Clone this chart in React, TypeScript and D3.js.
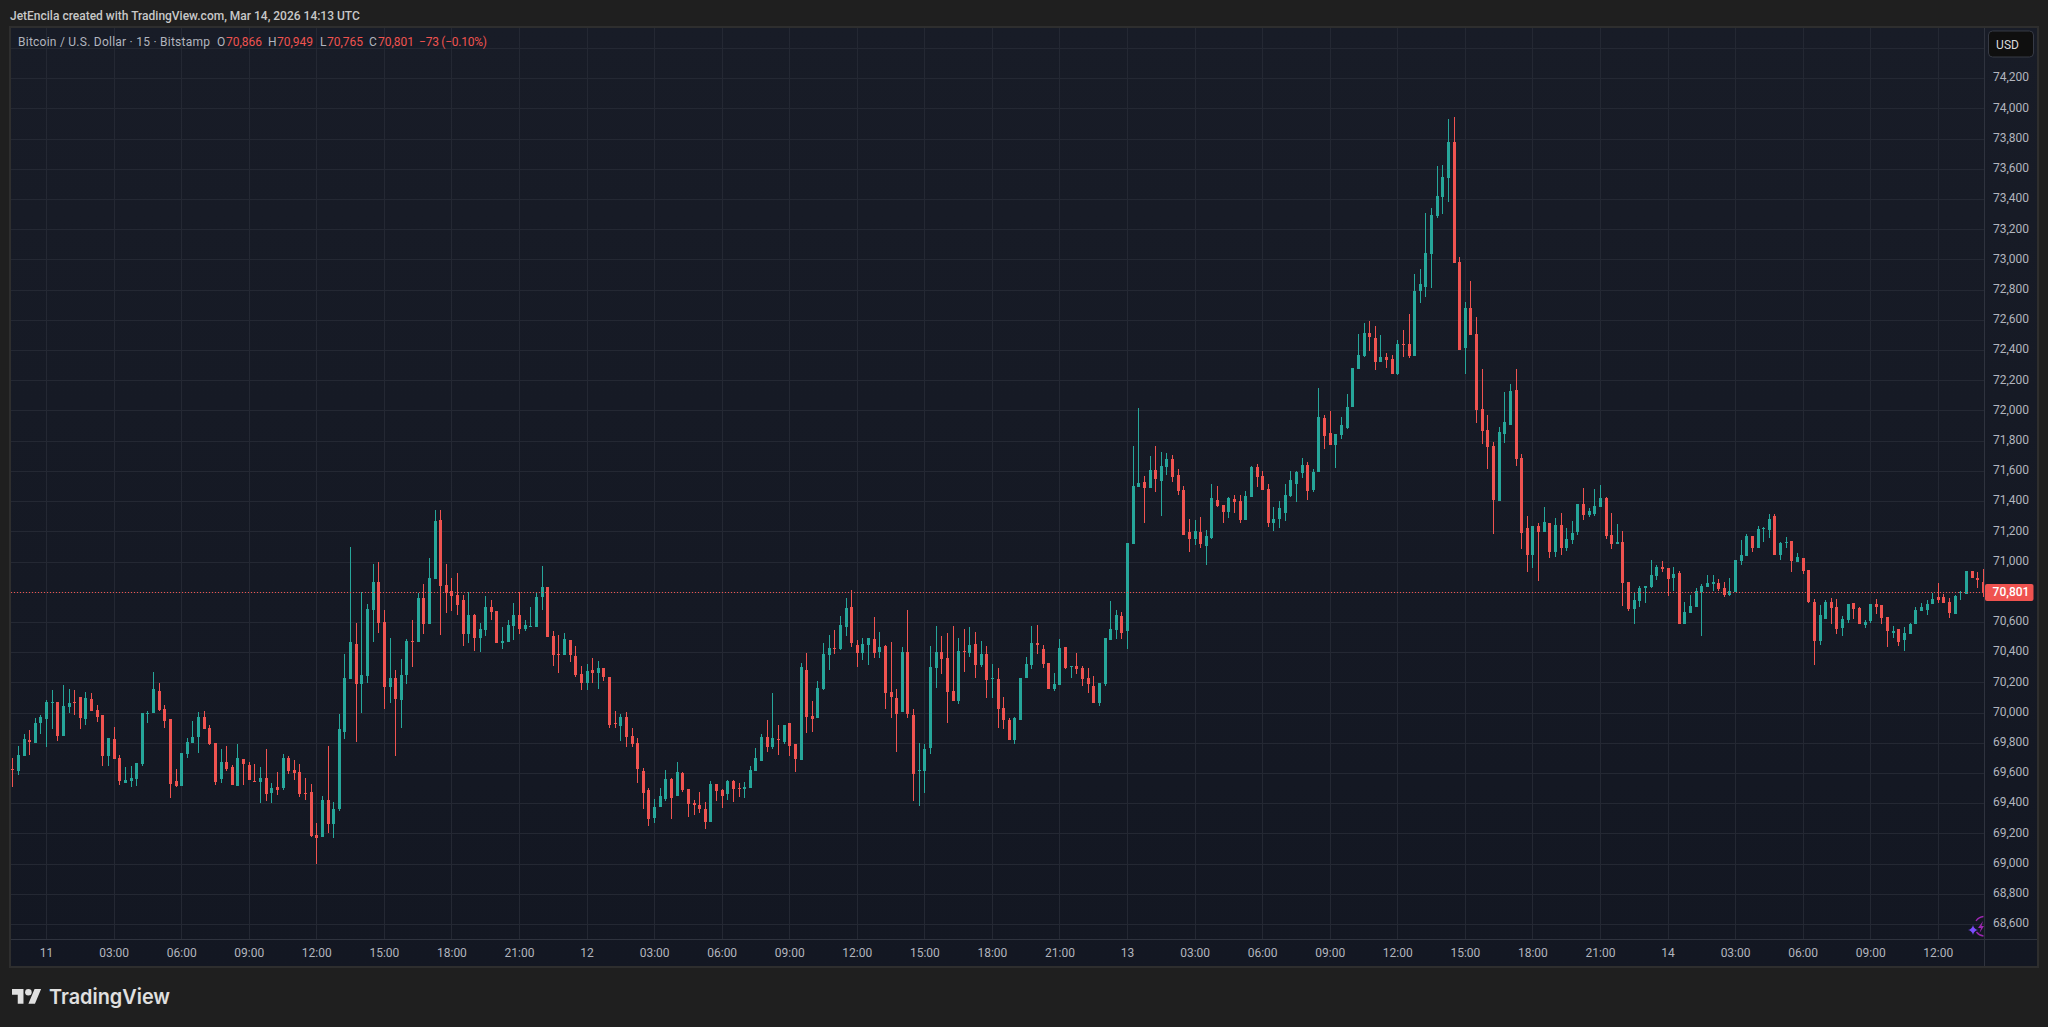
// App.tsx - BTC/USD 15m candles, dark TradingView snapshot
import React from 'react';
import * as d3 from 'd3';

const WIDTH = 2048;
const HEIGHT = 1027;

// one value per 15 minute bar, first bar is Mar 10 22:30
const opens = [
  69625,69612,69711,69817,69797,69929,69956,70062,70068,69843,70035,70068,70102,69956,70088,70015,69982,69711,69823,69698,
  69532,69545,69559,69658,69989,69996,70141,70022,69956,69545,69512,69724,69797,69837,69969,69896,69797,69559,69671,69638,
  69512,69691,69651,69550,69539,69565,69466,69506,69499,69698,69618,69605,69466,69473,69188,69175,69420,69261,69360,69870,
  70221,70452,70188,70241,70678,70863,70598,70168,70227,70082,70247,70472,70466,70757,70585,70883,71273,70843,70803,70777,
  70744,70519,70644,70492,70545,70697,70671,70459,70466,70572,70644,70552,70565,70565,70764,70830,70505,70386,70380,70479,
  70373,70254,70194,70280,70260,70294,70234,69929,69910,69969,69843,69797,69612,69486,69300,69373,69426,69559,69446,69598,
  69492,69400,69386,69360,69274,69526,69486,69459,69545,69499,69492,69499,69612,69678,69837,69770,69823,69804,69929,69790,
  69684,70280,69976,69962,70154,70380,70426,70419,70565,70697,70446,70393,70446,70486,70399,70439,70135,70095,70002,70399,
  69982,69612,69612,69764,70294,70399,70360,70141,70075,70406,70393,70452,70313,70386,70221,70221,70029,69949,69817,69949,
  70227,70313,70459,70419,70327,70154,70181,70433,70300,70307,70294,70227,70174,70062,70188,70479,70545,70638,70539,71115,
  71492,71525,71485,71604,71532,71624,71677,71571,71472,71194,71148,71194,71101,71154,71406,71373,71326,71412,71399,71273,
  71426,71624,71565,71479,71254,71280,71320,71432,71512,71585,71638,71472,71591,71949,71849,71770,71836,71883,72022,72273,
  72359,72512,72478,72320,72353,72339,72240,72439,72439,72359,72790,72816,73035,73286,73412,73538,73776,72982,72412,72677,
  72505,72008,71869,71763,71399,71843,71902,72134,71684,71220,71042,71234,71194,71254,71062,71240,71088,71141,71194,71379,
  71307,71313,71360,71419,71174,71115,71128,70863,70684,70737,70823,70830,70903,70962,70956,70889,70923,70585,70658,70697,
  70797,70830,70850,70856,70823,70777,70797,71002,71035,71167,71088,71214,71207,71300,71042,71121,71134,70995,71022,70942,
  70731,70472,70618,70731,70697,70558,70611,70724,70691,70578,70605,70717,70711,70631,70525,70552,70479,70519,70585,70671,
  70678,70717,70764,70764,70731,70651,70790,70783,70936,70889,70866,
];
const highs = [
  69698,69777,69857,69883,69962,69982,70082,70148,70068,70181,70154,70148,70102,70135,70128,70049,69982,69830,69903,69718,
  69638,69645,69665,69996,70009,70267,70194,70049,69956,69625,69731,69830,69943,70002,70009,69916,69797,69757,69777,69651,
  69790,69691,69671,69658,69638,69757,69532,69605,69724,69711,69684,69658,69565,69526,69267,69446,69777,69406,69989,70386,
  71095,70591,70801,70717,70982,70995,70678,70492,70280,70353,70486,70611,70790,70850,71022,71340,71340,70982,70889,70923,
  70777,70801,70651,70591,70770,70744,70671,70565,70611,70724,70801,70611,70697,70797,70969,70830,70539,70512,70525,70479,
  70439,70307,70320,70360,70340,70294,70234,70009,69989,70002,69896,69830,69631,69499,69426,69499,69618,69565,69671,69605,
  69492,69420,69473,69406,69545,69526,69492,69552,69552,69532,69539,69645,69764,69857,69949,70128,69916,69916,69929,69790,
  70327,70393,70075,70207,70459,70512,70545,70638,70757,70810,70479,70492,70492,70631,70532,70446,70466,70154,70433,70678,
  70022,69797,69790,70439,70572,70505,70525,70572,70492,70552,70565,70532,70472,70439,70320,70294,70102,69962,69969,70227,
  70366,70572,70578,70446,70327,70260,70486,70433,70307,70393,70307,70294,70241,70194,70492,70737,70678,70664,71121,71763,
  72015,71565,71697,71763,71724,71717,71704,71611,71499,71280,71273,71293,71207,71512,71499,71373,71426,71439,71439,71465,
  71631,71644,71598,71512,71360,71399,71512,71598,71598,71684,71657,71611,72147,71969,71995,71843,71955,72108,72280,72505,
  72578,72591,72558,72498,72379,72366,72465,72531,72637,72902,72935,73306,73339,73617,73624,73928,73942,73015,72717,72856,
  72617,72273,71969,71790,71889,72121,72174,72273,71710,71300,71234,71254,71360,71254,71287,71320,71220,71267,71379,71485,
  71353,71479,71505,71426,71320,71247,71201,70863,70797,70836,70836,71009,70975,71002,70956,70962,70936,70731,70777,70823,
  70850,70909,70909,70883,70863,70889,71009,71141,71181,71167,71234,71227,71313,71313,71128,71161,71134,71055,71022,70942,
  70750,70711,70744,70757,70750,70638,70717,70724,70697,70611,70717,70750,70711,70631,70572,70552,70565,70591,70697,70724,
  70744,70790,70856,70783,70757,70777,70803,70936,70936,70929,70949,
];
const lows = [
  69506,69585,69711,69718,69797,69857,69770,69890,69810,69843,69996,69982,69890,69916,70009,69936,69645,69645,69691,69519,
  69532,69506,69512,69645,69929,69996,70009,69896,69433,69506,69512,69698,69797,69731,69890,69784,69519,69532,69612,69519,
  69512,69519,69552,69545,69400,69413,69400,69453,69486,69592,69552,69439,69420,69175,68996,69175,69201,69168,69347,69823,
  70221,69804,69996,70194,70466,70525,70022,70062,69711,69896,70188,70300,70466,70519,70585,70883,70512,70658,70671,70644,
  70439,70459,70406,70399,70505,70611,70459,70419,70466,70479,70519,70539,70565,70565,70678,70499,70307,70260,70380,70333,
  70234,70148,70148,70194,70154,70207,69896,69896,69810,69770,69770,69532,69360,69247,69267,69373,69413,69294,69446,69473,
  69307,69320,69333,69228,69274,69413,69367,69420,69406,69439,69433,69499,69612,69678,69737,69757,69718,69790,69711,69605,
  69684,69863,69870,69962,70148,70280,70386,70413,70505,70433,70300,70346,70313,70360,70360,70022,69962,69737,70002,69962,
  69413,69380,69466,69724,70161,70254,69929,70075,70055,70267,70366,70227,70300,70095,70095,69896,69890,69817,69790,69949,
  70227,70287,70386,70294,70154,70141,70181,70287,70227,70254,70174,70128,70062,70042,70174,70479,70486,70486,70419,71115,
  71492,71254,71485,71459,71300,71571,71525,71439,71174,71062,71108,71088,70975,71148,71360,71254,71287,71320,71254,71273,
  71426,71492,71472,71227,71201,71220,71267,71426,71393,71551,71406,71459,71591,71744,71770,71618,71810,71876,72022,72273,
  72353,72392,72267,72320,72280,72240,72234,72353,72346,72359,72710,72750,72809,73273,73299,73379,72975,72399,72240,72498,
  71916,71777,71611,71181,71399,71783,71902,71631,71081,70929,70956,70870,71194,71022,71028,71042,71068,71115,71174,71273,
  71293,71300,71360,71148,71081,71115,70704,70671,70585,70697,70724,70823,70876,70929,70770,70803,70585,70585,70658,70697,
  70505,70830,70803,70803,70764,70770,70797,70975,71035,71062,71088,71128,71154,71042,71009,71088,70929,70995,70916,70724,
  70313,70446,70618,70585,70519,70505,70591,70618,70585,70558,70591,70651,70585,70433,70492,70439,70406,70519,70585,70671,
  70644,70717,70724,70724,70625,70651,70744,70783,70889,70823,70765,
];
const closes = [
  69620,69718,69823,69804,69929,69969,70068,70068,69843,70042,70062,70062,69962,70095,70009,69969,69711,69830,69691,69545,
  69552,69565,69665,69996,69996,70154,70015,69943,69526,69512,69731,69804,69837,69969,69890,69790,69539,69671,69625,69519,
  69698,69658,69552,69545,69565,69459,69499,69486,69698,69612,69598,69459,69459,69181,69168,69420,69261,69360,69890,70227,
  70466,70188,70247,70684,70863,70591,70168,70227,70088,70247,70472,70466,70757,70585,70889,71267,70836,70790,70770,70711,
  70519,70644,70492,70552,70697,70664,70459,70472,70578,70644,70552,70578,70572,70764,70830,70499,70380,70380,70486,70380,
  70247,70194,70274,70260,70294,70234,69916,69923,69969,69837,69790,69625,69466,69294,69373,69446,69559,69433,69605,69486,
  69393,69386,69360,69274,69526,69479,69446,69545,69492,69492,69506,69618,69698,69837,69770,69830,69817,69916,69777,69691,
  70300,69969,69956,70161,70386,70426,70419,70578,70691,70459,70393,70452,70492,70393,70433,70128,70102,69989,70399,69989,
  69592,69618,69757,70300,70399,70353,70135,70075,70406,70399,70446,70313,70386,70214,70227,70022,69949,69817,69962,70227,
  70320,70459,70446,70320,70154,70188,70426,70294,70307,70287,70221,70188,70062,70194,70492,70552,70644,70525,71121,71499,
  71518,71485,71604,71545,71631,71677,71558,71465,71174,71148,71201,71115,71167,71419,71366,71326,71419,71393,71273,71432,
  71624,71558,71472,71254,71280,71353,71439,71538,71591,71638,71465,71591,71955,71830,71770,71843,71902,72022,72280,72366,
  72512,72485,72320,72353,72333,72240,72439,72432,72359,72790,72836,73041,73293,73419,73544,73776,72975,72399,72677,72498,
  72002,71863,71757,71406,71856,71922,72127,71677,71187,71042,71234,71194,71260,71062,71240,71088,71148,71187,71379,71307,
  71333,71366,71419,71167,71115,71128,70856,70684,70744,70823,70836,70909,70962,70949,70883,70916,70585,70664,70704,70803,
  70836,70856,70863,70817,70777,70803,71009,71042,71167,71088,71214,71220,71280,71042,71121,71128,71002,71028,70936,70731,
  70472,70644,70731,70691,70552,70618,70717,70684,70585,70598,70717,70697,70625,70539,70539,70466,70525,70585,70678,70697,
  70717,70750,70744,70724,70658,70770,70797,70936,70889,70876,70801,
];

const priceTicks = [
  68600,68800,69000,69200,69400,69600,69800,70000,70200,70400,70600,70800,71000,71200,71400,71600,71800,72000,72200,
  72400,72600,72800,73000,73200,73400,73600,73800,74000,74200,
];
const timeLabels = [
  '11','03:00','06:00','09:00','12:00','15:00','18:00','21:00',
  '12','03:00','06:00','09:00','12:00','15:00','18:00','21:00',
  '13','03:00','06:00','09:00','12:00','15:00','18:00','21:00',
  '14','03:00','06:00','09:00','12:00',
];
const legendValues = [
  { key: 'O', val: '70,866', kx: 217, vx: 226 },
  { key: 'H', val: '70,949', kx: 268, vx: 277 },
  { key: 'L', val: '70,765', kx: 320, vx: 327 },
  { key: 'C', val: '70,801', kx: 369, vx: 378 },
];

const UP = '#26a69a';
const DOWN = '#ef5350';
const GRID = '#242833';
const FONT = 'Roboto, "Noto Sans", sans-serif';

const PANE = { left: 11, right: 1984, top: 28, bottom: 939, frameRight: 2038, frameBottom: 967 };

const App: React.FC = () => {
  const x = d3.scaleLinear().domain([0, opens.length - 1]).range([12.8, 1983.3]);
  const y = d3.scaleLinear().domain([68600, 74000]).range([924, 108.4]);
  const fmt = d3.format(',');
  const lastPrice = closes[closes.length - 1];
  const lastY = Math.round(y(lastPrice)) + 0.5;

  return (
    <svg
      width={WIDTH}
      height={HEIGHT}
      viewBox={`0 0 ${WIDTH} ${HEIGHT}`}
      style={{ position: 'absolute', left: 0, top: 0, display: 'block' }}
      fontFamily={FONT}
    >
      <defs>
        <linearGradient id="paneBg" x1="0" y1="0" x2="0" y2="1">
          <stop offset="0" stopColor="#181c27" />
          <stop offset="1" stopColor="#131722" />
        </linearGradient>
        <clipPath id="paneClip">
          <rect x={PANE.left} y={PANE.top} width={PANE.right - PANE.left} height={PANE.bottom - PANE.top} />
        </clipPath>
      </defs>

      <rect width={WIDTH} height={HEIGHT} fill="#1f1f1f" />
      <rect
        x={PANE.left - 1}
        y={PANE.top - 1}
        width={PANE.frameRight - PANE.left + 1}
        height={PANE.frameBottom - PANE.top + 1}
        fill="url(#paneBg)"
        stroke="#2e2e2e"
        strokeWidth={2}
      />

      <text x={10} y={20} fontSize={12} fontWeight={500} fill="#c8c8c8">
        JetEncila created with TradingView.com, Mar 14, 2026 14:13 UTC
      </text>

      {/* grid */}
      <g shapeRendering="crispEdges" stroke={GRID} strokeWidth={1}>
        {[...priceTicks, 74400].map((p) => (
          <line key={p} x1={PANE.left} x2={PANE.right} y1={Math.round(y(p)) + 0.5} y2={Math.round(y(p)) + 0.5} />
        ))}
        {timeLabels.map((_, k) => {
          const gx = Math.floor(x(6 + k * 12)) + 0.5;
          return <line key={k} x1={gx} x2={gx} y1={PANE.top} y2={PANE.bottom} />;
        })}
      </g>

      {/* candles */}
      <g clipPath="url(#paneClip)" shapeRendering="crispEdges">
        {opens.map((o, i) => {
          const c = closes[i];
          const color = c >= o ? UP : DOWN;
          const col = Math.floor(x(i));
          const top = Math.round(y(Math.max(o, c)));
          const bottom = Math.max(Math.round(y(Math.min(o, c))), top + 1);
          const hy = Math.round(y(highs[i]));
          const ly = Math.round(y(lows[i]));
          return (
            <g key={i} fill={color}>
              <rect x={col} y={hy} width={1} height={Math.max(ly - hy, 1)} />
              <rect x={col - 1} y={top} width={3} height={bottom - top} />
            </g>
          );
        })}
      </g>

      {/* last price line */}
      <line
        x1={PANE.left}
        x2={PANE.right}
        y1={lastY}
        y2={lastY}
        stroke={DOWN}
        strokeWidth={1}
        strokeDasharray="1 2"
        shapeRendering="crispEdges"
      />

      {/* axis borders */}
      <g stroke="#2f333e" strokeWidth={1} shapeRendering="crispEdges">
        <line x1={PANE.left} x2={PANE.frameRight - 1} y1={PANE.bottom + 0.5} y2={PANE.bottom + 0.5} />
        <line x1={PANE.right + 0.5} x2={PANE.right + 0.5} y1={PANE.top} y2={PANE.frameBottom - 1} />
      </g>

      {/* assistant badge, bottom right */}
      <g>
        <path d="M1983.5 916.5 A 10 10 0 0 0 1976 921 M1976.5 932 A 10 10 0 0 0 1983.5 936" fill="none" stroke="#9c27b0" strokeWidth={1.3} />
        <path d="M1983 921 L1978 928 L1981 928 L1979.5 933 L1984 926 L1981.5 926 Z" fill="#9c27b0" />
        <path d="M1973 925 Q1973.8 929.2 1978 930 Q1973.8 930.8 1973 935 Q1972.2 930.8 1968 930 Q1972.2 929.2 1973 925 Z" fill="#7c4dff" />
      </g>

      {/* price axis */}
      <g fontSize={12} fill="#b2b5be" textAnchor="middle">
        {priceTicks.map((p) => (
          <text key={p} x={2011} y={y(p) + 3.3}>
            {fmt(p)}
          </text>
        ))}
      </g>
      <rect x={1988.5} y={31} width={45} height={26} rx={4} fill="#0f0f0f" stroke="#363a45" />
      <text x={2007.5} y={49} fontSize={12} fill="#dbdbdb" textAnchor="middle">
        USD
      </text>
      <rect x={1985} y={Math.round(y(lastPrice)) - 8} width={48.5} height={17} rx={2} fill={DOWN} />
      <text x={2011} y={596} fontSize={12} fontWeight={500} fill="#ffffff" textAnchor="middle">
        {fmt(lastPrice)}
      </text>

      {/* time axis */}
      <g fontSize={12} fill="#b2b5be" textAnchor="middle">
        {timeLabels.map((t, k) => (
          <text key={k} x={x(6 + k * 12)} y={957}>
            {t}
          </text>
        ))}
      </g>

      {/* legend */}
      <g fontSize={12}>
        <text x={18} y={46} fill="#b2b5be" textLength={192} lengthAdjust="spacing">
          Bitcoin / U.S. Dollar · 15 · Bitstamp
        </text>
        {legendValues.map((d) => (
          <g key={d.key}>
            <text x={d.kx} y={46} fill="#b2b5be">
              {d.key}
            </text>
            <text x={d.vx} y={46} fill={DOWN}>
              {d.val}
            </text>
          </g>
        ))}
        <text x={419} y={46} fill={DOWN} textLength={68} lengthAdjust="spacing">
          −73 (−0.10%)
        </text>
      </g>

      {/* logo */}
      <g transform="translate(12 985.7) scale(0.82)" fill="#e0e0e0">
        <path d="M14 22H7V11H0V4h14v18zM28 22h-8l7.5-18h8L28 22z" />
        <circle cx={20} cy={8} r={4} />
      </g>
      <text
        x={49}
        y={1004}
        fontSize={20.5}
        fontWeight={600}
        fontFamily="Inter, Roboto, sans-serif"
        fill="#e0e0e0"
        textLength={121}
        lengthAdjust="spacingAndGlyphs"
      >
        TradingView
      </text>
    </svg>
  );
};

export default App;
